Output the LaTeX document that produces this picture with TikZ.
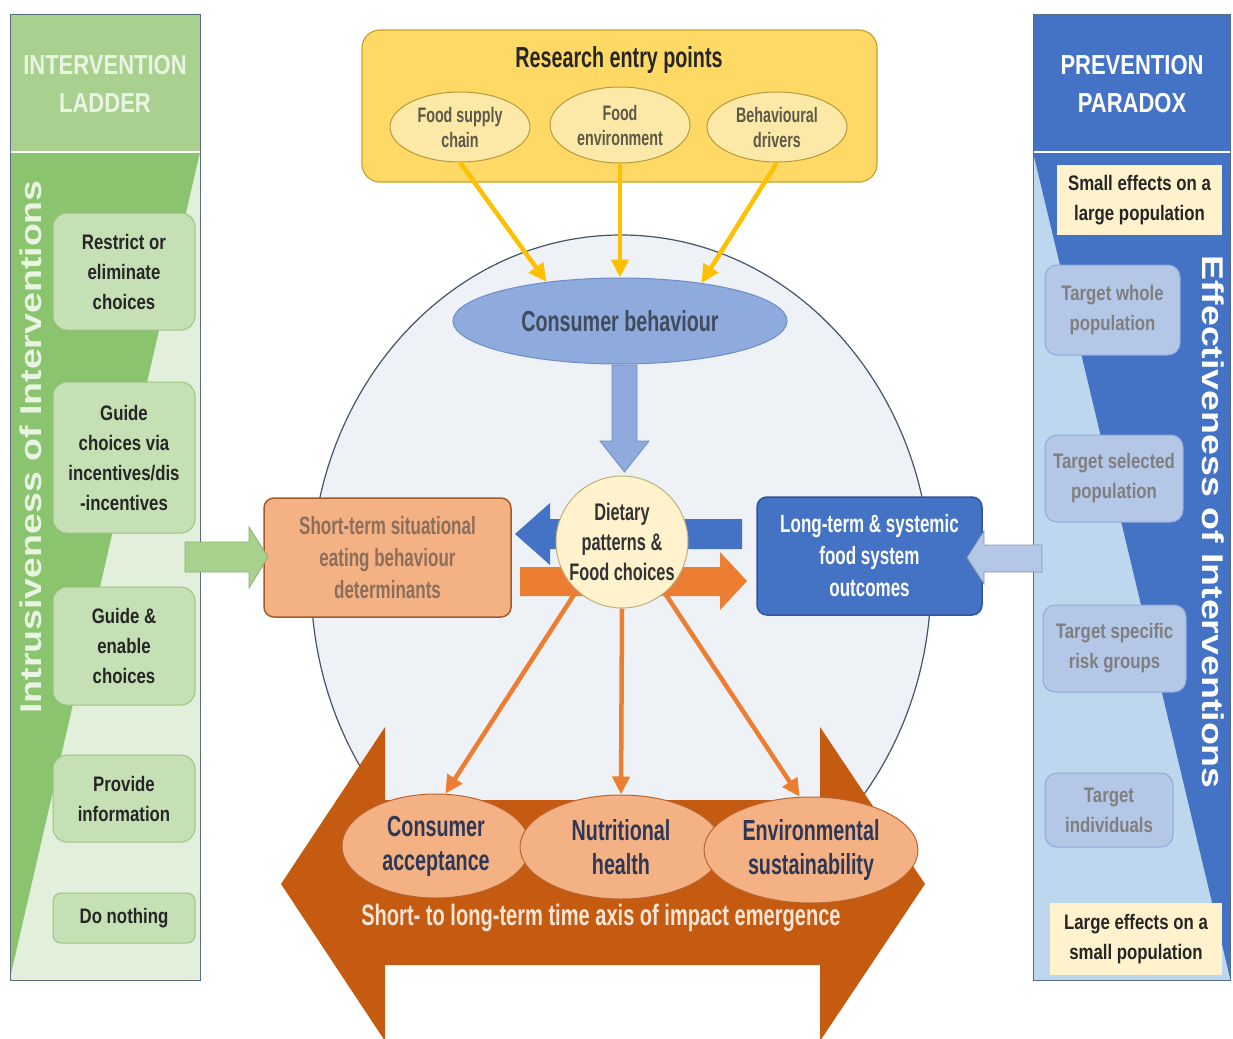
\documentclass[tikz,border=0pt]{standalone}
\usepackage{fontspec}
\setmainfont{Liberation Sans}
\newfontfamily\sidefont{Liberation Sans}[FakeStretch=0.8]
\newfontfamily\midfont{Liberation Sans}[FakeStretch=0.68]
\newfontfamily\longfont{Liberation Sans}[FakeStretch=1.25]
\usetikzlibrary{shapes.geometric,arrows.meta}

\definecolor{ladderhead}{HTML}{A9D08E}
\definecolor{ladderdark}{HTML}{8AC46E}
\definecolor{ladderlight}{HTML}{E2EFDA}
\definecolor{ladderfill}{HTML}{C5E0B4}
\definecolor{ladderedge}{HTML}{9DC383}
\definecolor{laddertext}{HTML}{EAF4E2}
\definecolor{frame}{HTML}{5A6B84}
\definecolor{pphead}{HTML}{4472C4}
\definecolor{pplight}{HTML}{BDD7EE}
\definecolor{targetfill}{HTML}{B4C7E7}
\definecolor{targetedge}{HTML}{8FAADC}
\definecolor{targettext}{HTML}{7F7F7F}
\definecolor{cream}{HTML}{FFF2CC}
\definecolor{plate}{HTML}{EEF1F5}
\definecolor{plateedge}{HTML}{44546A}
\definecolor{ybox}{HTML}{FFD966}
\definecolor{yboxedge}{HTML}{C9A22B}
\definecolor{yell}{HTML}{FCE9A8}
\definecolor{yelledge}{HTML}{B89A3A}
\definecolor{yarrow}{HTML}{FFC000}
\definecolor{yelltext}{HTML}{5E5A4A}
\definecolor{cbfill}{HTML}{8FAADC}
\definecolor{cbedge}{HTML}{6E8DC6}
\definecolor{cbtext}{HTML}{404B5E}
\definecolor{dietedge}{HTML}{BFAF7A}
\definecolor{stfill}{HTML}{F4B183}
\definecolor{stedge}{HTML}{A65A2A}
\definecolor{sttext}{HTML}{8C6E5C}
\definecolor{ltedge}{HTML}{2F5597}
\definecolor{garrow}{HTML}{A9D18E}
\definecolor{garrowedge}{HTML}{86B46C}
\definecolor{barrowedge}{HTML}{8497B0}
\definecolor{bigarrow}{HTML}{C55A11}
\definecolor{outedge}{HTML}{B8652E}
\definecolor{outtext}{HTML}{2E3856}
\definecolor{axistext}{HTML}{FBE5D6}
\definecolor{orangeline}{HTML}{ED7D31}

\begin{document}
\begin{tikzpicture}[x=1pt,y=-1pt,
  sidetxt/.style={font=\sidefont\bfseries\fontsize{21}{30}\selectfont, align=center, inner sep=0pt},
  headtxt/.style={font=\sidefont\bfseries\fontsize{27.5}{38}\selectfont, align=center, inner sep=0pt},
  ladderbox/.style={sidetxt, rectangle, rounded corners=14pt, fill=ladderfill, draw=ladderedge, line width=1pt, text=black!85},
  targetbox/.style={sidetxt, rectangle, rounded corners=12pt, fill=targetfill, draw=targetedge, line width=1pt, text=targettext},
  notebox/.style={sidetxt, rectangle, fill=cream, text=black!85},
  entry/.style={ellipse, fill=yell, draw=yelledge, line width=1pt, inner sep=0pt, align=center, text=yelltext,
    font=\midfont\bfseries\fontsize{21}{25}\selectfont, minimum width=140, minimum height=70},
  outcome/.style={ellipse, fill=stfill, draw=outedge, line width=1pt, inner sep=0pt, align=center, text=outtext,
    font=\midfont\bfseries\fontsize{29}{34}\selectfont},
  feed/.style={draw=yarrow, line width=4.5pt, -{Triangle[length=18pt,width=17pt]}},
  impact/.style={draw=orangeline, line width=4.5pt, -{Triangle[length=18pt,width=17pt]}},
  stage/.style={rectangle, rounded corners=10pt, line width=1.5pt, align=center, inner sep=0pt,
    font=\midfont\bfseries\fontsize{25}{32}\selectfont}
]
\useasboundingbox (0,0) rectangle (1233,1038);
\fill[white] (0,0) rectangle (1233,1038);

% ---------- intervention ladder (left panel) ----------
\fill[ladderlight] (10,152) rectangle (200,980);
\fill[ladderdark] (10,152) -- (200,152) -- (10,978) -- cycle;
\fill[ladderhead] (10,15) rectangle (200,151);
\draw[white, line width=2pt] (10,152) -- (200,152);
\draw[frame, line width=1pt] (10,15) rectangle (200,980);
\node[headtxt, text=laddertext] (ladderhead) at (105,84) {INTERVENTION\\LADDER};
\node[font=\longfont\bfseries\fontsize{30}{30}\selectfont, text=laddertext, rotate=90, inner sep=0pt]
  (intrusive) at (31,447) {Intrusiveness of Interventions};

\node[ladderbox, minimum width=142, minimum height=117] (restrict) at (124,271.5) {Restrict or\\eliminate\\choices};
\node[ladderbox, minimum width=142, minimum height=151] (incent) at (124,457.5) {Guide\\choices via\\incentives/dis\\-incentives};
\node[ladderbox, minimum width=142, minimum height=118] (enable) at (124,646) {Guide \&\\enable\\choices};
\node[ladderbox, minimum width=142, minimum height=87] (inform) at (124,798.5) {Provide\\information};
\node[ladderbox, minimum width=142, minimum height=50, rounded corners=8pt] (nothing) at (124,918) {Do nothing};

% ---------- prevention paradox (right panel) ----------
\fill[pplight] (1033,152) rectangle (1230,980);
\fill[pphead] (1033,152) -- (1230,152) -- (1230,978) -- cycle;
\fill[pphead] (1033,15) rectangle (1230,151);
\draw[white, line width=2pt] (1033,152) -- (1230,152);
\draw[frame, line width=1pt] (1033,15) rectangle (1230,980);
\node[headtxt, text=white] (pphead) at (1132,84) {PREVENTION\\PARADOX};
\node[font=\longfont\bfseries\fontsize{30}{30}\selectfont, text=white, rotate=-90, inner sep=0pt]
  (effective) at (1213,522) {Effectiveness of Interventions};

\node[notebox, minimum width=165, minimum height=70] (smalleff) at (1139.5,200) {Small effects on a\\large population};
\node[targetbox, minimum width=135, minimum height=90] (whole) at (1112.5,310) {Target whole\\population};
\node[targetbox, minimum width=138, minimum height=87] (selected) at (1114,478.5) {Target selected\\population};
\node[targetbox, minimum width=143, minimum height=87] (risk) at (1114.5,648.5) {Target specific\\risk groups};
\node[targetbox, minimum width=128, minimum height=74] (indiv) at (1109,810) {Target\\individuals};
\node[notebox, minimum width=172, minimum height=72] (largeeff) at (1136,939) {Large effects on a\\small population};

% ---------- central plate ----------
\node[ellipse, minimum width=620, minimum height=690, fill=plate, draw=plateedge, line width=1.2pt] (plate) at (621,580) {};

% ---------- research entry points ----------
\node[rectangle, rounded corners=18pt, minimum width=515, minimum height=152, fill=ybox, draw=yboxedge, line width=1.2pt]
  (entrybox) at (619.5,106) {};
\node[font=\midfont\bfseries\fontsize{29}{29}\selectfont, text=black!85, inner sep=0pt] (entrytitle) at (619,60) {Research entry points};
\node[entry] (supply) at (460,127) {Food supply\\chain};
\node[entry, minimum height=76] (foodenv) at (620,125) {Food\\environment};
\node[entry] (drivers) at (777,127) {Behavioural\\drivers};

% ---------- consumer behaviour ----------
\node[ellipse, minimum width=334, minimum height=86, inner sep=0pt, fill=cbfill, draw=cbedge, line width=1pt,
  font=\midfont\bfseries\fontsize{29}{29}\selectfont, text=cbtext] (cb) at (620,321) {Consumer behaviour};

\draw[feed] (supply.south) -- (cb.152);
\draw[feed] (foodenv.south) -- (cb.north);
\draw[feed] (drivers.south) -- (cb.25);

% block arrow from consumer behaviour down to dietary patterns
\fill[cbfill, draw=cbedge, line width=0.8pt] (612,365) -- (637,365) -- (637,441) -- (649,441) -- (624.5,472)
  -- (600,441) -- (612,441) -- cycle;

% horizontal block arrows through the dietary circle
\fill[pphead] (742,519) -- (550,519) -- (550,503) -- (515,534) -- (550,565) -- (550,549) -- (742,549) -- cycle;
\fill[orangeline] (520,567) -- (720,567) -- (720,552) -- (747,581) -- (720,610) -- (720,596) -- (520,596) -- cycle;

\node[circle, minimum size=132, inner sep=0pt, fill=cream, draw=dietedge, line width=1pt, align=center,
  font=\midfont\bfseries\fontsize{24}{30}\selectfont, text=black!80] (diet) at (622,542) {Dietary\\patterns \&\\Food choices};

% ---------- short- and long-term boxes ----------
\node[stage, minimum width=247, minimum height=119, fill=stfill, draw=stedge, text=sttext] (shortterm) at (387.5,557.5)
  {Short-term situational\\eating behaviour\\determinants};
\node[stage, minimum width=225, minimum height=118, fill=pphead, draw=ltedge, text=white] (longterm) at (869.5,556)
  {Long-term \& systemic\\food system\\outcomes};

% side block arrows into the boxes
\fill[garrow, draw=garrowedge, line width=0.8pt] (185,542) -- (249,542) -- (249,527) -- (268,557) -- (249,588)
  -- (249,572) -- (185,572) -- cycle;
\fill[targetfill, draw=barrowedge, line width=0.8pt] (1042,545) -- (984,545) -- (984,531) -- (967,557.5) -- (984,584)
  -- (984,572) -- (1042,572) -- cycle;

% ---------- time axis ----------
\fill[bigarrow] (281,884) -- (385,727) -- (385,800) -- (820,800) -- (820,727) -- (925,884) -- (820,1041)
  -- (820,965) -- (385,965) -- (385,1041) -- cycle;

\node[outcome, minimum width=188, minimum height=104] (accept) at (436,846) {Consumer\\acceptance};
\node[outcome, minimum width=202, minimum height=104] (health) at (621,847) {Nutritional\\health};
\node[outcome, minimum width=214, minimum height=106] (sustain) at (811,850) {Environmental\\sustainability};

\draw[impact] (diet.227) -- (accept.80);
\draw[impact] (diet.south) -- (health.north);
\draw[impact] (diet.310) -- (sustain.102);

\node[font=\midfont\bfseries\fontsize{29.5}{29.5}\selectfont, text=axistext, inner sep=0pt] (axis) at (601,918)
  {Short- to long-term time axis of impact emergence};
\end{tikzpicture}
\end{document}
